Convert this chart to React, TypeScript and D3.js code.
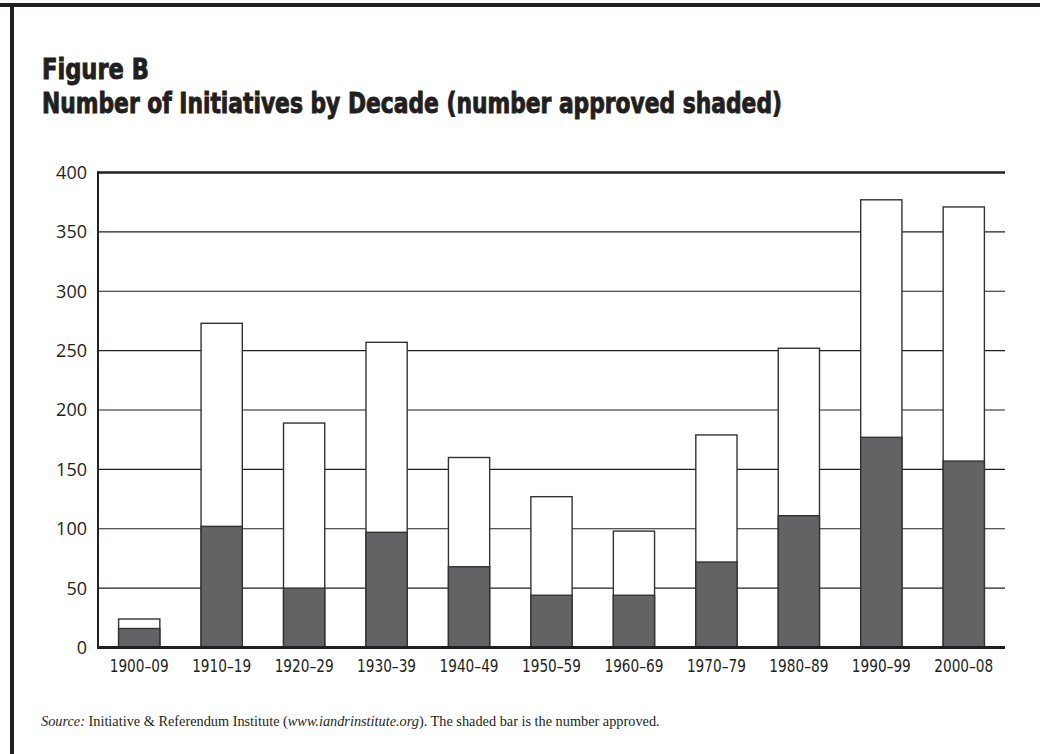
import React from "react";
import * as d3 from "d3";

// decades on the x axis
const decades = ["1900–09", "1910–19", "1920–29", "1930–39", "1940–49", "1950–59", "1960–69", "1970–79", "1980–89", "1990–99", "2000–08"];
// total initiatives per decade
const totals = [24, 273, 189, 257, 160, 127, 98, 179, 252, 377, 371];
// number approved (shaded part)
const approved = [16, 102, 50, 97, 68, 44, 44, 72, 111, 177, 157];
const yTicks = [0, 50, 100, 150, 200, 250, 300, 350, 400];

const W = 1040;
const H = 754;
const margin = { top: 172.5, right: 35, bottom: 106.5, left: 98 };

export default function App() {
  const x = d3
    .scaleBand<string>()
    .domain(decades)
    .range([margin.left, W - margin.right])
    .paddingInner(0.5)
    .paddingOuter(0.25);
  const y = d3
    .scaleLinear()
    .domain([0, 400])
    .range([H - margin.bottom, margin.top]);

  const ink = "#231f20";
  const narrow = "'Liberation Sans Narrow', 'DejaVu Sans Condensed', 'Arial Narrow', sans-serif";

  return (
    <svg width={W} height={H} style={{ position: "absolute", left: 0, top: 0, background: "#fff" }}>
      {/* frame: top and left rules */}
      <rect x={0} y={3} width={W} height={4} fill={ink} />
      <rect x={10} y={3} width={4} height={H - 3} fill={ink} />

      {/* title */}
      <g fontFamily={narrow} fontWeight="bold" fontSize={28} fill={ink} stroke={ink} strokeWidth={0.9}>
        <text x={42} y={79} textLength={107} lengthAdjust="spacingAndGlyphs">
          Figure B
        </text>
        <text x={42} y={113} textLength={740} lengthAdjust="spacingAndGlyphs">
          Number of Initiatives by Decade (number approved shaded)
        </text>
      </g>

      {/* grid lines */}
      {yTicks.filter(t => t > 0).map(t => (
        <line key={t} x1={margin.left} x2={W - margin.right} y1={y(t)} y2={y(t)} stroke={ink} strokeWidth={t === 400 ? 2.5 : 1.2} />
      ))}

      {/* y tick labels */}
      {yTicks.map(t => (
        <text key={t} x={87} y={y(t)} dy="0.36em" textAnchor="end" fontFamily="'Open Sans', sans-serif" fontSize={18} fill={ink}>
          {t}
        </text>
      ))}

      {/* bars */}
      {decades.map((d, i) => (
        <g key={d}>
          <rect x={x(d)} y={y(totals[i])} width={x.bandwidth()} height={y(0) - y(totals[i])} fill="#fff" stroke="#333" strokeWidth={1.4} />
          <rect x={x(d)} y={y(approved[i])} width={x.bandwidth()} height={y(0) - y(approved[i])} fill="#636365" stroke="#333" strokeWidth={1.4} />
        </g>
      ))}

      {/* axes */}
      <line x1={margin.left} x2={margin.left} y1={margin.top - 1.2} y2={y(0)} stroke={ink} strokeWidth={2} />
      <line x1={margin.left - 1} x2={W - margin.right} y1={y(0)} y2={y(0)} stroke={ink} strokeWidth={3} />

      {/* x tick labels */}
      {decades.map(d => (
        <text key={d} x={(x(d) ?? 0) + x.bandwidth() / 2} y={672} textAnchor="middle" fontFamily={narrow} fontSize={17} fill={ink} textLength={59} lengthAdjust="spacingAndGlyphs">
          {d}
        </text>
      ))}

      {/* source note */}
      <text x={41} y={726} fontFamily="'Liberation Serif', 'Times New Roman', serif" fontSize={14.3} fill={ink}>
        <tspan fontStyle="italic">Source:</tspan> Initiative &amp; Referendum Institute (<tspan fontStyle="italic">www.iandrinstitute.org</tspan>). The shaded bar is the number approved.
      </text>
    </svg>
  );
}
